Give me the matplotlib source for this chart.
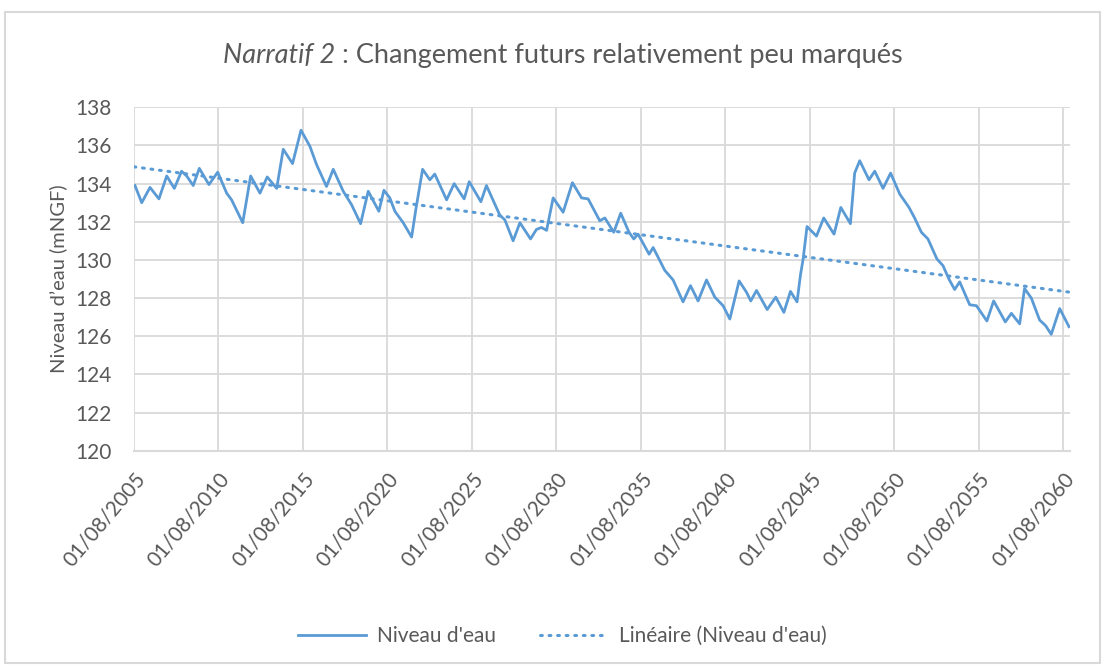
import matplotlib
matplotlib.use("Agg")
import matplotlib.pyplot as plt
from matplotlib.lines import Line2D
from matplotlib.patches import Rectangle

# water level (decimal years, mNGF)
years = [2005.64, 2006.04, 2006.53, 2007.06, 2007.52, 2007.97, 2008.40, 2008.70, 2009.09, 2009.45,
         2010.02, 2010.54, 2011.07, 2011.36, 2012.02, 2012.49, 2013.04, 2013.47, 2014.03, 2014.42,
         2014.97, 2015.47, 2016.00, 2016.39, 2016.98, 2017.38, 2017.97, 2018.46, 2019.00, 2019.45,
         2020.08, 2020.38, 2020.73, 2021.03, 2021.52, 2022.02, 2022.27, 2022.67, 2023.10, 2023.39,
         2024.09, 2024.54, 2025.13, 2025.43, 2026.12, 2026.45, 2027.24, 2027.54, 2028.03, 2028.43,
         2029.06, 2029.41, 2029.71, 2030.01, 2030.40, 2030.99, 2031.54, 2032.08, 2032.47, 2033.16,
         2033.46, 2033.99, 2034.40, 2034.89, 2035.17, 2035.43, 2036.08, 2036.32, 2037.01, 2037.50,
         2038.09, 2038.53, 2038.98, 2039.48, 2039.97, 2040.46, 2040.86, 2041.41, 2041.85, 2042.10,
         2042.44, 2043.07, 2043.58, 2044.06, 2044.45, 2044.84, 2045.04, 2045.20, 2045.43, 2045.99,
         2046.42, 2047.03, 2047.43, 2048.00, 2048.25, 2048.55, 2049.10, 2049.44, 2049.93, 2050.38,
         2050.92, 2051.47, 2051.80, 2052.20, 2052.59, 2053.12, 2053.48, 2053.83, 2054.17, 2054.47,
         2055.06, 2055.46, 2056.08, 2056.48, 2057.17, 2057.53, 2058.02, 2058.31, 2058.71, 2059.20,
         2059.56, 2059.89, 2060.39, 2060.94]
level = [133.9, 133.0, 133.8, 133.2, 134.4, 133.75, 134.65, 134.4, 133.9, 134.8,
         133.95, 134.6, 133.5, 133.15, 131.95, 134.4, 133.5, 134.35, 133.75, 135.8,
         135.05, 136.8, 135.95, 135.0, 133.85, 134.75, 133.6, 132.9, 131.9, 133.6,
         132.55, 133.65, 133.25, 132.55, 131.95, 131.2, 132.65, 134.75, 134.2, 134.5,
         133.15, 134.0, 133.2, 134.1, 133.05, 133.9, 132.35, 132.1, 131.0, 131.95,
         131.1, 131.6, 131.7, 131.55, 133.25, 132.5, 134.05, 133.25, 133.2, 132.05,
         132.2, 131.45, 132.45, 131.45, 131.1, 131.35, 130.3, 130.65, 129.45, 128.95,
         127.8, 128.65, 127.85, 128.95, 128.05, 127.6, 126.9, 128.9, 128.3, 127.85,
         128.4, 127.4, 128.05, 127.25, 128.35, 127.8, 129.2, 130.05, 131.75, 131.25,
         132.2, 131.35, 132.75, 131.9, 134.55, 135.2, 134.2, 134.65, 133.75, 134.55,
         133.45, 132.75, 132.2, 131.45, 131.1, 130.05, 129.7, 129.0, 128.45, 128.85,
         127.65, 127.6, 126.8, 127.85, 126.75, 127.2, 126.65, 128.5, 128.0, 126.85,
         126.55, 126.1, 127.45, 126.5]

# linear trend ends as drawn in the reference
trend_years = [2005.583, 2060.97]
trend_level = [134.88, 128.31]

tick_years = [2005.583, 2010.583, 2015.583, 2020.583, 2025.583, 2030.583,
              2035.583, 2040.583, 2045.583, 2050.583, 2055.583, 2060.583]
tick_labels = ['01/08/2005', '01/08/2010', '01/08/2015', '01/08/2020', '01/08/2025', '01/08/2030',
               '01/08/2035', '01/08/2040', '01/08/2045', '01/08/2050', '01/08/2055', '01/08/2060']
y_ticks = [120, 122, 124, 126, 128, 130, 132, 134, 136, 138]

BLUE = '#5b9bd5'
GREY = '#595959'
GRID = '#d9d9d9'
plt.rcParams['font.family'] = ['Lato', 'DejaVu Sans']

W, H = 1104, 666
fig = plt.figure(figsize=(W / 100, H / 100), dpi=100)
fig.patches.append(Rectangle((5 / W, 3 / H), 1095 / W, 651 / H, transform=fig.transFigure,
                             fill=False, edgecolor=GRID, linewidth=1.5))

ax = fig.add_axes([134 / W, 1 - 450.7 / H, 936 / W, 343.4 / H])
ax.plot(years, level, color=BLUE, linewidth=2.0, solid_joinstyle='round')
ax.plot(trend_years, trend_level, color=BLUE, linewidth=2.2,
        linestyle=(0, (0.6, 2.2)), dash_capstyle='round')

ax.set_xlim(2005.583, 2061.0)
ax.set_ylim(120, 138)
ax.set_yticks(y_ticks)
ax.set_xticks(tick_years)
ax.set_xticklabels(tick_labels, rotation=50, ha='right', va='top', rotation_mode='anchor')
ax.grid(color=GRID, linewidth=1.3)
ax.set_axisbelow(True)
for side in ['top', 'right', 'left']:
    ax.spines[side].set_visible(False)
ax.spines['bottom'].set_color(GRID)
ax.spines['bottom'].set_linewidth(1.5)
ax.tick_params(axis='both', length=0, labelsize=15, labelcolor=GREY)
ax.tick_params(axis='y', pad=16)
ax.tick_params(axis='x', pad=13)

ax.set_ylabel('Niveau d\u2019eau (mNGF)', fontsize=14.5, color=GREY)
ax.yaxis.set_label_coords(67 / W, 1 - 279 / H, transform=fig.transFigure)

# title: italic part + regular part, centred together
renderer = fig.canvas.get_renderer()
ty = 1 - 63 / H
t1 = fig.text(0, ty, 'Narratif 2', style='italic', fontsize=19.5, color=GREY)
t2 = fig.text(0, ty, ' : Changement futurs relativement peu marqu\u00e9s', fontsize=19.5, color=GREY)
w1 = t1.get_window_extent(renderer).width
w2 = t2.get_window_extent(renderer).width
x0 = 563 - (w1 + w2) / 2
t1.set_x(x0 / W)
t2.set_x((x0 + w1) / W)

handles = [Line2D([], [], color=BLUE, linewidth=2.0),
           Line2D([], [], color=BLUE, linewidth=2.2, linestyle=(0, (0.6, 2.2)), dash_capstyle='round')]
fig.legend(handles, ["Niveau d'eau", "Lin\u00e9aire (Niveau d'eau)"], loc='center',
           bbox_to_anchor=(562 / W, 1 - 636 / H), ncol=2, frameon=False, fontsize=15,
           labelcolor=GREY, handlelength=3.3, handletextpad=0.5, columnspacing=2.1)

fig.savefig('out.png', dpi=100)
